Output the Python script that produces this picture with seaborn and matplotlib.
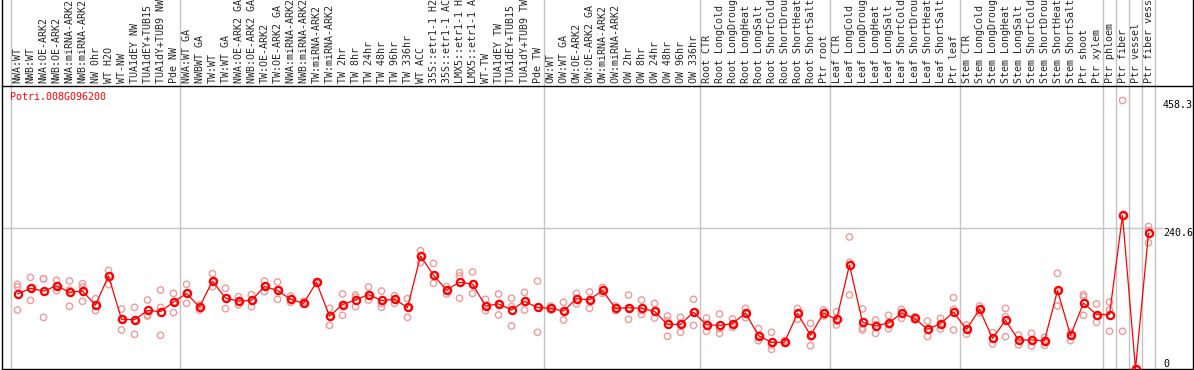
import numpy as np
import pandas as pd
import matplotlib as mpl
import matplotlib.pyplot as plt
import seaborn as sns

# ---- data ----
gene = "Potri.008G096200"

samples = [
    "NWA:WT", "NWB:WT", "NWA:OE-ARK2", "NWB:OE-ARK2", "NWA:miRNA-ARK2", "NWB:miRNA-ARK2",
    "NW 0hr", "WT H2O", "WT-NW", "TUA1dEY NW", "TUA1dEY+TUB15 NW", "TUA1dY+TUB9 NW", "Pde NW",
    "NWA:WT GA", "NWBWT GA", "TW:WT", "TW:WT GA", "NWA:OE-ARK2 GA", "NWB:OE-ARK2 GA",
    "TW:OE-ARK2", "TW:OE-ARK2 GA", "NWA:miRNA-ARK2 GA", "NWB:miRNA-ARK2 GA", "TW:miRNA-ARK2",
    "TW:miRNA-ARK2 GA", "TW 2hr", "TW 8hr", "TW 24hr", "TW 48hr", "TW 96hr", "TW 336hr",
    "WT ACC", "35S::etr1-1 H2O", "35S::etr1-1 ACC", "LMX5::etr1-1 H2O", "LMX5::etr1-1 ACC",
    "WT-TW", "TUA1dEY TW", "TUA1dEY+TUB15 TW", "TUA1dY+TUB9 TW", "Pde TW",
    "OW:WT", "OW:WT GA", "OW:OE-ARK2", "OW:OE-ARK2 GA", "OW:miRNA-ARK2", "OW:miRNA-ARK2 GA",
    "OW 2hr", "OW 8hr", "OW 24hr", "OW 48hr", "OW 96hr", "OW 336hr",
    "Root CTR", "Root LongCold", "Root LongDrought", "Root LongHeat", "Root LongSalt",
    "Root ShortCold", "Root ShortDrought", "Root ShortHeat", "Root ShortSalt", "Ptr root",
    "Leaf CTR", "Leaf LongCold", "Leaf LongDrought", "Leaf LongHeat", "Leaf LongSalt",
    "Leaf ShortCold", "Leaf ShortDrought", "Leaf ShortHeat", "Leaf ShortSalt", "Ptr leaf",
    "Stem CTR", "Stem LongCold", "Stem LongDrought", "Stem LongHeat", "Stem LongSalt",
    "Stem ShortCold", "Stem ShortDrought", "Stem ShortHeat", "Stem ShortSalt", "Ptr shoot",
    "Ptr xylem", "Ptr phloem", "Ptr fiber", "Ptr vessel", "Ptr fiber vessel",
]

mean_expr = [
    128, 137.7, 133, 142, 131, 133, 109, 159, 85, 84, 100, 98, 114,
    129, 106, 150, 121, 116, 117, 141, 134, 119, 112, 148, 90, 110, 118, 127, 117,
    119, 105, 193, 160, 135, 148, 145, 107.5, 111, 101, 115.5, 105,
    103.5, 99, 120, 118, 134, 103.5, 104.6, 103.5, 98.4, 76, 76, 97,
    75.6, 74.5, 77.4, 95.6, 57, 45.5, 45.5, 95, 57.5, 95,
    84.8, 177.5, 79.7, 73.4, 78.5, 95, 86.5, 67.7, 77.4, 97,
    67.7, 101.8, 52.3, 83, 49.5, 49.5, 48.3, 134, 57.4, 112.6, 93,
    93, 262, 0, 231.5,
]

rep_a = [
    144.5, 156.4, 154, 151.3, 150.2, 145.6, 120, 168.4, 102.4, 105.2, 117.7, 134.8, 129.1,
    144.5, 109.2, 162.7, 137.7, 123.4, 126.8, 150.2, 148.5, 124.6, 115.5, 149.6, 103.5, 128,
    126.3, 139.9, 133.1, 125.1, 120, 201.9, 180.3, 140.5, 164.4, 165.5, 118.9, 128, 120.6,
    130.8, 150.2, 107.5, 113.8, 129.1, 131.4, 139.4, 107.5, 126.3, 117.7, 112, 90.4, 88.2,
    118.9, 87, 93.9, 85.3, 103.5, 68.8, 62.6, 48.4, 103.5, 77.9, 100.7, 97.8, 225.3, 102.4,
    83.6, 91.6, 101.8, 89.3, 81.9, 86.5, 121.7, 75.1, 107.5, 62, 103.5, 58, 60.9, 54, 163.3,
    62, 126.8, 110.9, 114.3, 458.3, 0, 243.3,
]
rep_b = [
    140, 137.7, 154, 141.6, 134.8, 140, 107.5, 158.7, 85.3, 83.6, 92.2, 105.2, 114.3,
    129.1, 105.2, 149, 120.6, 114.9, 117.7, 141.1, 134.8, 118.9, 112, 147.9, 89.9, 110.4,
    122.3, 127.4, 112, 119.5, 105.2, 192.8, 159.8, 134.8, 158.7, 145, 107.5, 112, 106.4,
    115, 105.2, 103.5, 99, 120, 118.3, 134.2, 103.5, 104.7, 99.5, 98.4, 82.5, 77.9,
    97.3, 75.7, 68.8, 77.4, 95.6, 56.9, 40.9, 45.5, 95, 54.6, 95, 81.3, 182, 70,
    75.7, 75.1, 95, 86.5, 66.6, 77.9, 101.8, 67.7, 101.8, 52.3, 89.3, 49.5, 48.4, 48.4, 132,
    57.5, 123.4, 90.4, 100.7, 261, 0, 236.5,
]
rep_c = [
    100.7, 117.2, 88, 133.7, 107, 115.5, 99.5, 143.9, 66.6, 59.2, 90.4, 57.5, 96.1,
    112.1, 100.7, 140.5, 103, 109.2, 106.4, 132, 118.9, 113.8, 110.9, 146.2, 74.5, 91.6,
    106.4, 117.7, 105.2, 112, 88.2, 181.5, 146.2, 128, 120.6, 129.1, 99.5, 92.2, 73.4,
    100.7, 62.6, 100.7, 83.6, 110.9, 103.5, 129.1, 99.5, 84.8, 93.3, 87, 55.7, 62.6,
    74.5, 64.3, 60.9, 71.1, 87.6, 48.4, 33.6, 43.8, 84.8, 39.8, 90.4, 75.1, 126.3, 66.6,
    60.9, 68.8, 86.5, 83.6, 55.2, 68.3, 66.6, 59.7, 96.1, 42.7, 55.2, 41, 39.2, 40.4, 107.5,
    48.4, 91.6, 79.6, 64.3, 64.3, 0, 215.6,
]

# first column of each tissue block (vertical separators)
group_starts = [0, 13, 41, 53, 63, 73, 84, 85, 86, 87, 88]
ytick_vals = [458.3, 240.6, 0]

# ---- style ----
sns.set_style("white")
plt.rcParams["font.family"] = ["DejaVu Sans Mono"]
FONT_SIZE = 7.2
MEAN_RED = "#ff0000"
REP_PINK = "#ef9a9a"
GRID_GREY = "#c4c4c4"

W, H = 1194, 370
fig = plt.figure(figsize=(W / 100, H / 100), dpi=100, facecolor="w")
# plot area in pixels: x 1.5..1193, y 86..369 from top
ax = fig.add_axes([1.5 / W, 1 / H, (1193 - 1.5) / W, 283 / H])

pos = np.arange(len(samples)) + 0.5
reps = pd.DataFrame({"pos": np.tile(pos, 3), "expr": rep_a + rep_b + rep_c})
means = pd.DataFrame({"pos": pos, "expr": mean_expr})

sns.scatterplot(data=reps, x="pos", y="expr", ax=ax, marker="o", s=21,
                color=REP_PINK, facecolor="none", edgecolor=REP_PINK,
                linewidth=1.0, zorder=3)
sns.lineplot(data=means, x="pos", y="expr", ax=ax, color=MEAN_RED, lw=0.9,
             errorbar=None, marker="o", markersize=5.2, markerfacecolor="none",
             markeredgecolor=MEAN_RED, markeredgewidth=1.6, zorder=4)

x0, x1 = (1.5 - 11) / 13, (1193 - 11) / 13
ax.set_xlim(x0, x1)
ax.set_ylim(0, 483)

ax.xaxis.tick_top()
ax.set_xticks(pos)
ax.set_xticklabels(samples, rotation=90, fontsize=FONT_SIZE)
ax.tick_params(axis="x", length=0, pad=2.5)
ax.set_yticks([])
ax.set_xlabel("")
ax.set_ylabel("")
for sp in ax.spines.values():
    sp.set_color("black")
    sp.set_linewidth(1)

top_frac = 369 / 283
for g in group_starts:
    ax.axvline(g, ymin=0, ymax=top_frac, color=GRID_GREY, lw=1, clip_on=False, zorder=1)
ax.axhline(240.6, xmax=(1162 - 1.5) / 1191.5, color=GRID_GREY, lw=1, zorder=1)
# frame continues around the label strip
for xe in (x0, x1):
    ax.axvline(xe, ymin=1, ymax=top_frac + 0.01, color="black", lw=1, clip_on=False)

trans = mpl.transforms.blended_transform_factory(ax.transAxes, ax.transData)
lab_x = (1163 - 1.5) / 1191.5
for v in ytick_vals:
    ax.text(lab_x, v, f"{v:g}", transform=trans, fontsize=FONT_SIZE,
            va="bottom" if v == 0 else "top", ha="left", color="black")

ax.text((10 - 1.5) / 1191.5, (369 - 92) / 283, gene, transform=ax.transAxes,
        fontsize=FONT_SIZE, color=MEAN_RED, va="top", ha="left")

fig.savefig("out.png", dpi=100)
